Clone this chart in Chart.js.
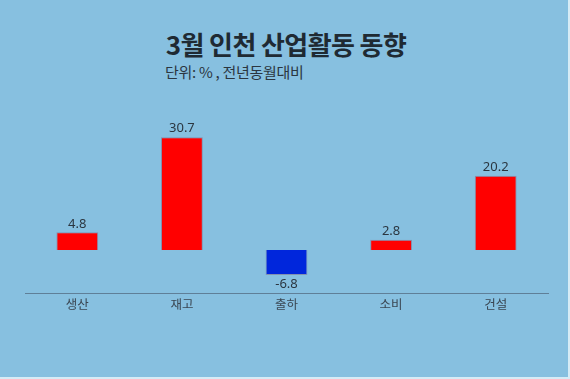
<!DOCTYPE html>
<html>
<head>
<meta charset="utf-8">
<script src="https://cdn.jsdelivr.net/npm/chart.js@4"></script>
<style>
  html, body { margin: 0; padding: 0; }
  body { width: 570px; height: 379px; background: #d6ecf6; }
  .card { position: relative; width: 568px; height: 377px; background: #87c0e0; overflow: hidden; }
  .title { position: absolute; left: 0; width: 572px; top: 25px; text-align: center; font: bold 26px "Noto Sans CJK KR", sans-serif; color: #1f2a33; letter-spacing: -0.6px; }
  .sub { position: absolute; left: 165px; top: 61px; font: 15px "Noto Sans CJK KR", sans-serif; color: #2b3640; letter-spacing: -0.3px; }
  .wrap { position: absolute; left: 0; top: 0; width: 568px; height: 377px; }
</style>
</head>
<body>
<div class="card">
  <div class="title">3월 인천 산업활동 동향</div>
  <div class="sub">단위: % , 전년동월대비</div>
  <div class="wrap"><canvas id="c"></canvas></div>
</div>
<script>
const categories = ["생산", "재고", "출하", "소비", "건설"];
const values = [4.8, 30.7, -6.8, 2.8, 20.2];
const yMin = -11.7;
const yMax = 40;

const barColors = values.map((v) => (v >= 0 ? "#ff0000" : "#0026dc"));

const valueLabels = {
  id: "valueLabels",
  afterDatasetsDraw(chart) {
    const ctx = chart.ctx;
    const meta = chart.getDatasetMeta(0);
    ctx.save();
    ctx.font = '13px "Noto Sans", sans-serif';
    ctx.fillStyle = "#2b3640";
    ctx.textAlign = "center";
    meta.data.forEach((bar, i) => {
      const v = values[i];
      if (v >= 0) {
        ctx.textBaseline = "bottom";
        ctx.fillText(v.toFixed(1), bar.x, bar.y - 2);
      } else {
        ctx.textBaseline = "top";
        ctx.fillText(v.toFixed(1), bar.x, bar.y + 3);
      }
    });
    ctx.restore();
  },
};

new Chart(document.getElementById("c"), {
  type: "bar",
  data: {
    labels: categories,
    datasets: [
      {
        data: values,
        backgroundColor: barColors,
        borderColor: "rgba(120,60,90,0.35)",
        borderWidth: 1,
        categoryPercentage: 1,
        barPercentage: 0.4,
      },
    ],
  },
  options: {
    responsive: true,
    maintainAspectRatio: false,
    animation: false,
    layout: { padding: { left: 25, right: 20, top: 103, bottom: 61 } },
    plugins: { legend: { display: false }, tooltip: { enabled: false } },
    scales: {
      x: {
        grid: { display: false, drawTicks: false },
        border: { display: true, color: "#5f7f98", width: 1 },
        ticks: { color: "#3a4652", padding: 4, font: { size: 12.5, family: '"Noto Sans CJK KR", sans-serif' } },
      },
      y: {
        display: false,
        min: yMin,
        max: yMax,
      },
    },
  },
  plugins: [valueLabels],
});
</script>
</body>
</html>
